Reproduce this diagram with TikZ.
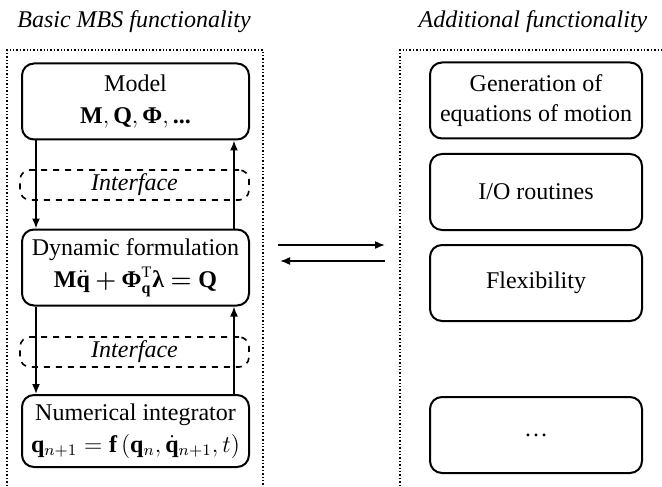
\documentclass[tikz,border=0pt]{standalone}
\usepackage{amsmath,bm}
\usepackage{fontspec}
\setmainfont{Liberation Serif}
\usetikzlibrary{arrows.meta,shapes,calc,positioning}
\tikzset{box/.style={
            draw,
            line width=1pt,
            rounded corners=6pt,
            align=center,
            inner sep=0pt,
            minimum width=113.5pt,
            minimum height=38pt,
            font=\fontsize{12}{15}\selectfont
        },
        ifbox/.style={
            draw,
            dashed,
            line width=0.8pt,
            rounded corners=5pt,
            inner sep=0pt,
            minimum width=114.5pt,
            minimum height=15pt,
            font=\fontsize{12}{14}\selectfont\itshape
        },
        frame/.style={
            densely dotted,
            line width=0.7pt
        },
        title/.style={
            font=\fontsize{12}{14}\selectfont\itshape
        },
        flow/.style={
            ->,
            >={Latex[length=5pt,width=4pt]},
            line width=0.8pt
        }
    }

\begin{document}
\begin{tikzpicture}[x=0.5pt,y=-0.5pt]
        \useasboundingbox (0,0) rectangle (662,486);
        % titles and frames
        \node[title] (basictitle) at (134,22) {Basic MBS functionality};
        \node[title] (addtitle) at (533,22) {Additional functionality};
        \draw[frame] (7,486) |- (263,50) -- (263,486);
        \draw[frame] (400,486) |- (662,50);
        % basic MBS chain
        \node[box] (model) at (135.5,101.5) {Model\\[1pt]$\mathbf{M},\mathbf{Q},\text{\bfseries Φ},\text{\bfseries...}$};
        \node[ifbox] (iface1) at (134.5,185) {Interface};
        \node[box] (dyn) at (135.5,267.5) {Dynamic formulation\\[1pt]$\mathbf{M}\ddot{\mathbf{q}}\mathbin{\bm{+}}\text{\bfseries Φ}_{\mathbf{q}}^{\mathrm{T}}\text{\bfseries λ}\mathrel{\bm{=}}\mathbf{Q}$};
        \node[ifbox] (iface2) at (134.5,352) {Interface};
        \node[box,minimum height=36pt] (integ) at (135.5,431) {Numerical integrator\\[1pt]$\mathbf{q}_{n+1}=\mathbf{f}\left(\mathbf{q}_{n},\dot{\mathbf{q}}_{n+1},t\right)$};
        \draw[flow] ([xshift=7.5pt]model.south west) -- ([xshift=7.5pt]dyn.north west);
        \draw[flow] ([xshift=-8pt]dyn.north east) -- ([xshift=-8pt]model.south east);
        \draw[flow] ([xshift=7.5pt]dyn.south west) -- ([xshift=7.5pt]integ.north west);
        \draw[flow] ([xshift=-8pt]integ.north east) -- ([xshift=-8pt]dyn.south east);
        % exchange between both sides
        \coordinate (sendA) at (278,245);
        \coordinate (sendB) at (385,245);
        \coordinate (backA) at (385,261);
        \coordinate (backB) at (280,261);
        \draw[flow] (sendA) -- (sendB);
        \draw[flow] (backA) -- (backB);
        % additional functionality
        \node[box,minimum width=106pt] (eqgen) at (536,100.5) {Generation of\\equations of motion};
        \node[box,minimum width=106pt] (io) at (536,192) {I/O routines};
        \node[box,minimum width=106pt] (flex) at (536,283) {Flexibility};
        \node[box,minimum width=106pt] (more) at (536,435) {\ldots};
    \end{tikzpicture}
\end{document}
